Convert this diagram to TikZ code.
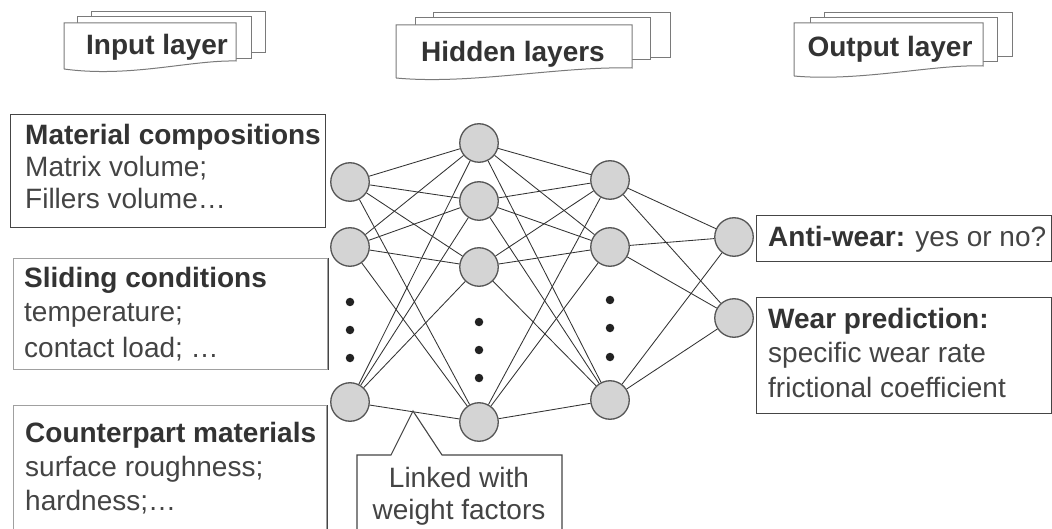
\documentclass[tikz,border=0pt]{standalone}
\usepackage{fontspec}
\setmainfont{Liberation Sans}
\definecolor{nfill}{HTML}{D4D4D4}
\definecolor{ndraw}{HTML}{555555}
\definecolor{linkc}{HTML}{333333}
\definecolor{dotc}{HTML}{222222}
\definecolor{boxdark}{HTML}{454545}
\definecolor{boxlight}{HTML}{A0A0A0}
\definecolor{headc}{HTML}{7A7A7A}
\definecolor{txtc}{HTML}{333333}
\definecolor{txtl}{HTML}{444444}
\begin{document}
\begin{tikzpicture}[x=1pt,y=-1pt,
  neuron/.style={circle,draw=ndraw,fill=nfill,line width=1.3pt,minimum size=38.5pt,inner sep=0pt},
  link/.style={draw=linkc,line width=0.85pt},
  ell/.style={circle,fill=dotc,inner sep=0pt,minimum size=8.5pt},
  framebox/.style={draw=#1,line width=1.3pt,inner sep=0pt,anchor=north west},
  darkedge/.style={draw=boxdark,line width=1.3pt},
  line/.style={anchor=base west,inner sep=0pt,text=txtl,font=\fontsize{28}{33}\selectfont},
  title/.style={anchor=base west,inner sep=0pt,text=txtc,font=\fontsize{28}{33}\selectfont\bfseries},
  headtxt/.style={anchor=base,inner sep=0pt,text=txtc,font=\fontsize{28}{33}\selectfont\bfseries},
  head/.style={draw=headc,line width=1pt,line join=miter},
  callout/.style={draw=boxdark,line width=1.1pt,line join=miter},
]
\useasboundingbox (0,0) rectangle (1052,529);
\fill[white] (0,0) rectangle (1052,529);
\clip (0,0) rectangle (1052,529);

% ---- layer headers (stacked sheets) ----
\draw[head] (91,17) -- (91,12) -- (265,12) -- (265,53) -- (251,53);
\draw[head] (77,23) -- (77,17) -- (251,17) -- (251,59) -- (236,59);
\draw[head,fill=white] (64,69) -- (64,23) -- (236,23) -- (236,61)
  .. controls (190,60) and (130,78) .. (64,69);
\node[headtxt] (hin) at (157,55) {Input layer};

\draw[head] (433,18) -- (433,13) -- (670,13) -- (670,58) -- (650,58);
\draw[head] (415,25) -- (415,18) -- (650,18) -- (650,60) -- (632,60);
\draw[head,fill=white] (396,78) -- (396,25) -- (632,25) -- (632,68)
  .. controls (560,66) and (470,85) .. (396,78);
\node[headtxt] (hhid) at (513,62) {Hidden layers};

\draw[head] (824,18) -- (824,13) -- (1012,13) -- (1012,57) -- (997,57);
\draw[head] (810,23) -- (810,18) -- (997,18) -- (997,62) -- (983,62);
\draw[head,fill=white] (794,76) -- (794,23) -- (983,23) -- (983,66)
  .. controls (935,64) and (860,82) .. (794,76);
\node[headtxt] (hout) at (890,57) {Output layer};

% ---- input boxes ----
\node[framebox=boxdark,minimum width=315pt,minimum height=113pt] (in1) at (10,114) {};
\node[title] (in1a) at (25,145) {Material compositions};
\node[line]  (in1b) at (25,177) {Matrix volume;};
\node[line]  (in1c) at (25,209) {Fillers volume\ldots};

\node[framebox=boxlight,minimum width=314pt,minimum height=111pt] (in2) at (13,258) {};
\draw[darkedge] (in2.north east) -- (in2.south east);
\node[title] (in2a) at (24,288) {Sliding conditions};
\node[line]  (in2b) at (24,322) {temperature;};
\node[line]  (in2c) at (24,357) {contact load; \ldots};

\node[framebox=boxlight,minimum width=313pt,minimum height=160pt] (in3) at (13,405) {};
\draw[darkedge] (in3.north east) -- (in3.south east);
\node[title] (in3a) at (25,442) {Counterpart materials};
\node[line]  (in3b) at (25,476) {surface roughness;};
\node[line]  (in3c) at (25,510) {hardness;\ldots};

% ---- output boxes ----
\node[framebox=boxdark,minimum width=295pt,minimum height=46pt] (out1) at (756,215) {};
\node[line] (out1a) at (768,247) {\textbf{\color{txtc}Anti-wear:} yes or no?};

\node[framebox=boxdark,minimum width=295pt,minimum height=116pt] (out2) at (756,297) {};
\node[title] (out2a) at (768,328) {Wear prediction:};
\node[line]  (out2b) at (768,362) {specific wear rate};
\node[line]  (out2c) at (768,397) {frictional coefficient};

% ---- neurons ----
\node[neuron] (a1) at (350,182) {};
\node[neuron] (a2) at (350,247) {};
\node[neuron] (a3) at (350,402) {};
\node[neuron] (b1) at (479,143) {};
\node[neuron] (b2) at (479,201) {};
\node[neuron] (b3) at (479,267) {};
\node[neuron] (b4) at (479,422) {};
\node[neuron] (c1) at (610,180) {};
\node[neuron] (c2) at (610,247) {};
\node[neuron] (c3) at (610,400) {};
\node[neuron] (d1) at (734,237) {};
\node[neuron] (d2) at (734,318) {};

\foreach \y [count=\i] in {302,330,358} \node[ell] (ea\i) at (350,\y) {};
\foreach \y [count=\i] in {322,350,378} \node[ell] (eb\i) at (479,\y) {};
\foreach \y [count=\i] in {300,328,357} \node[ell] (ec\i) at (610,\y) {};

% ---- weighted links ----
\foreach \s in {a1,a2,a3} \foreach \t in {b1,b2,b3,b4} \draw[link] (\s) -- (\t);
\foreach \s in {b1,b2,b3,b4} \foreach \t in {c1,c2,c3} \draw[link] (\s) -- (\t);
\foreach \s in {c1,c2,c3} \foreach \t in {d1,d2} \draw[link] (\s) -- (\t);

% ---- callout ----
\coordinate (tip) at (413,411);
\draw[callout,fill=white] (357,570) -- (357,455) -- (391,455) -- (tip) -- (442,455)
  -- (562,455) -- (562,570);
\node[line,anchor=base] (lk1) at (459,487) {Linked with};
\node[line,anchor=base] (lk2) at (459,519) {weight factors};
\end{tikzpicture}
\end{document}
